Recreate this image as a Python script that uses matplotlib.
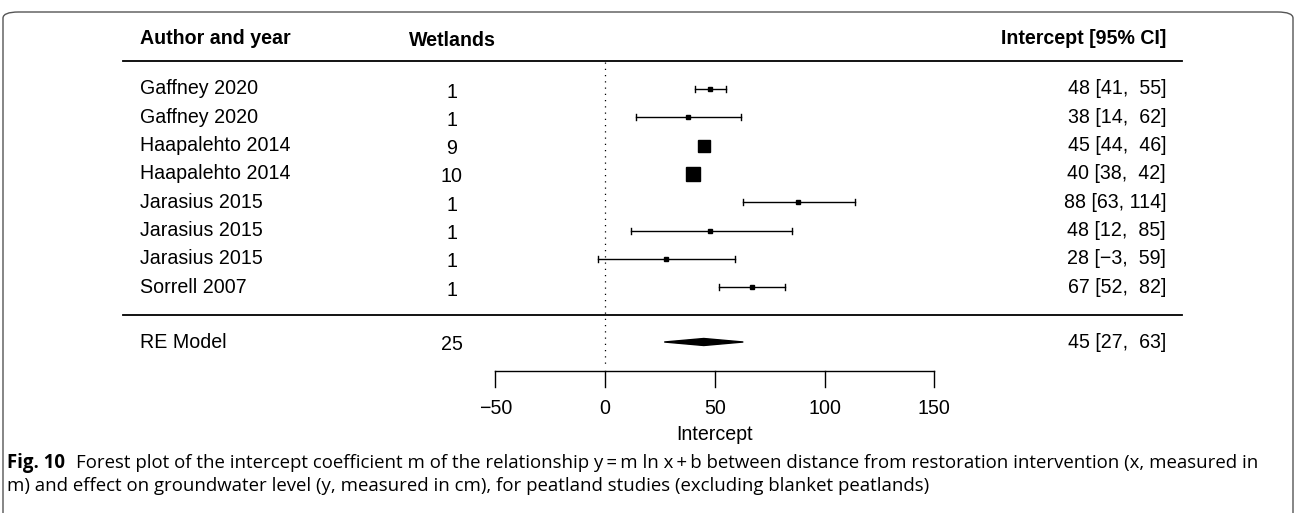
import matplotlib.pyplot as plt
from matplotlib.patches import FancyBboxPatch, Polygon

authors = ["Gaffney 2020", "Gaffney 2020", "Haapalehto 2014", "Haapalehto 2014",
           "Jarasius 2015", "Jarasius 2015", "Jarasius 2015", "Sorrell 2007"]
wetlands = [1, 1, 9, 10, 1, 1, 1, 1]
est = [48, 38, 45, 40, 88, 48, 28, 67]
lo = [41, 14, 44, 38, 63, 12, -3, 52]
hi = [55, 62, 46, 42, 114, 85, 59, 82]
msize = [5, 5, 12.5, 13.5, 5, 5, 5, 5]
re_est, re_lo, re_hi, re_n = 45, 27, 63, 25
ticks = [-50, 0, 50, 100, 150]

W, H = 1295, 513
plt.rcParams['font.family'] = ['Liberation Sans', 'DejaVu Sans']
fig = plt.figure(figsize=(W / 100, H / 100), dpi=100)

# outer rounded frame (bottom edge runs off the image)
frame = FancyBboxPatch((3 / W, -20 / H), (W - 5) / W, (H + 8) / H,
                       boxstyle="round,pad=0,rounding_size=0.012",
                       transform=fig.transFigure, fill=False, ec='#555555', lw=1)
fig.patches.append(frame)

# axes spanning the whole figure, x in data units, y in pixel rows
x0px, scale = 605, 2.195
ax = fig.add_axes([0, 0, 1, 1])
ax.set_xlim(-x0px / scale, (W - x0px) / scale)
ax.set_ylim(H, 0)
ax.axis('off')


def px(p):
    return (p - x0px) / scale


rows_y = [89 + 28.3 * i for i in range(len(authors))]
re_y = 342
fs = 14.1
left, wcol, right = px(140), px(452), px(1166)

ax.text(left, 39, "Author and year", fontsize=fs, fontweight='bold', va='center')
ax.text(wcol, 41, "Wetlands", fontsize=fs, fontweight='bold', va='center', ha='center')
ax.text(right, 39, "Intercept [95% CI]", fontsize=fs, fontweight='bold', va='center', ha='right')
ax.plot([px(123), px(1182)], [61, 61], color='black', lw=1.3)
ax.plot([px(123), px(1182)], [315, 315], color='black', lw=1.3)

for y, a, n, e, l, h, m in zip(rows_y, authors, wetlands, est, lo, hi, msize):
    ax.text(left, y, a, fontsize=fs, va='center')
    ax.text(wcol, y + 3, str(n), fontsize=fs, va='center', ha='center')
    ax.plot([l, h], [y, y], color='black', lw=1)
    ax.plot([l, l], [y - 3, y + 3], color='black', lw=1)
    ax.plot([h, h], [y - 3, y + 3], color='black', lw=1)
    ax.plot([e], [y], marker='s', ms=m * 0.72, color='black', mec='black')
    lab = f"{e} [{l:>2},  {h:>2}]" if h < 100 else f"{e} [{l}, {h}]"
    ax.text(right, y, lab.replace('-', '\u2212'), fontsize=fs, va='center', ha='right')

ax.text(left, re_y, "RE Model", fontsize=fs, va='center')
ax.text(wcol, re_y + 3, str(re_n), fontsize=fs, va='center', ha='center')
ax.add_patch(Polygon([[re_lo, re_y], [re_est, re_y - 3.5], [re_hi, re_y], [re_est, re_y + 3.5]],
                     closed=True, color='black'))
ax.text(right, re_y, f"{re_est} [{re_lo},  {re_hi}]", fontsize=fs, va='center', ha='right')

# zero reference line
ax.plot([0, 0], [62, 365], color='black', lw=0.9, ls=(0, (1, 4)))

# x axis
axis_y = 371
ax.plot([ticks[0], ticks[-1]], [axis_y, axis_y], color='black', lw=1)
for t in ticks:
    ax.plot([t, t], [axis_y, axis_y + 16], color='black', lw=1)
    ax.text(t, 409, f"{t}".replace('-', '\u2212'), fontsize=fs, ha='center', va='center')
ax.text(50, 435, "Intercept", fontsize=fs, ha='center', va='center')

# caption
cfs = 13.4
ax.text(px(7), 463, "Fig. 10", fontsize=cfs, fontweight='bold', va='center', family='Open Sans')
ax.text(px(76), 463, "Forest plot of the intercept coefficient m of the relationship y\u2009=\u2009m ln x\u2009+\u2009b "
        "between distance from restoration intervention (x, measured in",
        fontsize=cfs, va='center', family='Open Sans')
ax.text(px(7), 486, "m) and effect on groundwater level (y, measured in cm), for peatland studies "
        "(excluding blanket peatlands)", fontsize=cfs, va='center', family='Open Sans')

fig.savefig("out.png", dpi=100)
